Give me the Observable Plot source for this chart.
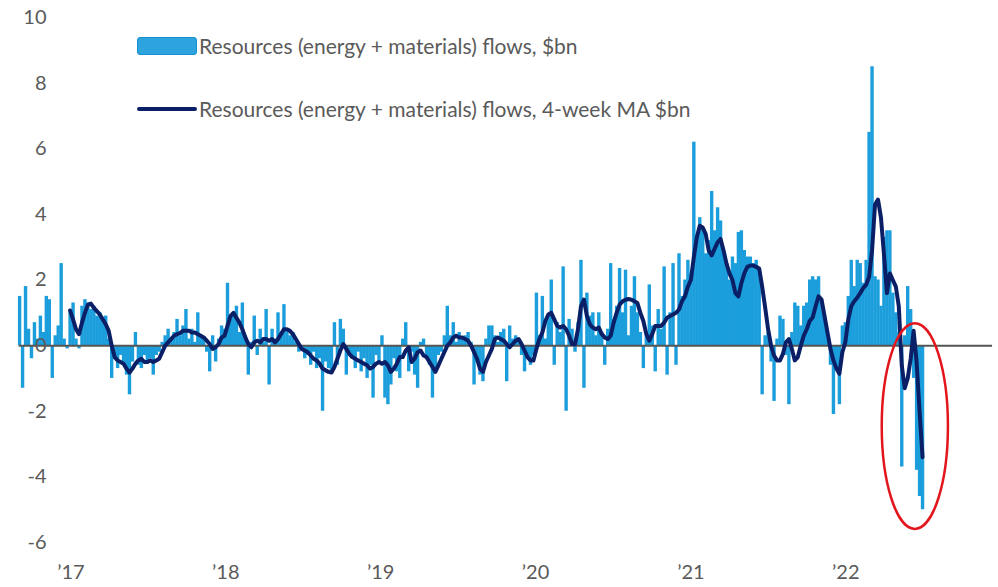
<!DOCTYPE html>
<html><head><meta charset="utf-8">
<script src="https://cdn.jsdelivr.net/npm/d3@7"></script>
<script src="https://cdn.jsdelivr.net/npm/@observablehq/plot@0.6"></script>
<style>
body{margin:0;background:#fff;}
#wrap{position:relative;width:998px;height:587px;font-family:Lato,"Open Sans",sans-serif;color:#5a5a5a;}
.leg{position:absolute;left:137px;display:flex;align-items:center;font-size:21px;line-height:24px;white-space:nowrap;}
.sw1{width:60px;height:18px;background:#2ea4de;border:1.5px solid #1590d0;border-radius:3px;box-sizing:border-box;margin-right:2px}
.sw2{width:60px;height:4px;background:#0b1f66;border-radius:2px;margin-right:2px}
</style></head>
<body><div id="wrap"><div id="chart"></div>
<div class="leg" style="top:34px"><div class="sw1"></div><span>Resources (energy + materials) flows, $bn</span></div>
<div class="leg" style="top:97px"><div class="sw2"></div><span>Resources (energy + materials) flows, 4-week MA $bn</span></div>
</div>
<script>
// Weekly flows, $bn (first week 2016-09-02)
const firstWeek = "2016-09-02";
const flows2016 = [1.5,-1.3,1.8,0.5,-0.4,0.7,0.2,0.9,0.4,1.5,1.4,-1.0,0.3,0.6,2.5,0.2,-0.1];
const flows2017 = [1.0,1.3,0.2,-0.1,1.2,1.4,1.3,1.1,1.2,0.9,1.0,0.8,0.9,0.2,-1.0,-0.4,-0.7,-0.3,-0.6,-0.9,-1.5,-0.5,0.4,-0.6,-0.7,-0.3,-0.5,-0.4,-0.9,-0.3,-0.2,0.1,0.3,0.5,0.2,0.4,0.8,0.3,0.6,1.1,0.2,0.5,0.1,1.0,0.3,0.2,-0.2,-0.8,0.3,-0.5,0.2,0.6];
const flows2018 = [0.5,1.9,0.8,1.0,1.2,0.4,1.3,0.3,-0.9,0.1,0.9,-0.3,0.5,0.1,1.1,-1.2,0.5,0.2,1.0,0.3,1.25,0.5,0.3,0.4,0.1,-0.2,0.0,-0.4,-0.3,-0.6,-0.2,-0.7,-0.4,-2.0,-0.5,-0.7,-0.8,0.7,-0.6,0.8,0.5,-0.9,-0.3,-0.4,-0.7,-0.2,-0.8,-0.4,-1.0,-0.6,-1.6,-0.3];
const flows2019 = [-0.5,0.3,-1.6,-1.8,-1.2,-0.4,-0.8,-1.0,0.2,0.7,-0.8,-0.2,-0.9,-1.3,0.1,0.2,-0.4,-0.6,-1.6,-0.7,-0.3,-0.2,0.3,1.2,0.3,0.7,0.1,0.4,0.2,0.3,0.4,0.1,-1.2,-0.5,-0.9,-1.1,0.2,0.6,0.6,0.3,0.1,0.4,0.5,-1.1,0.6,0.2,0.3,0.2,-0.3,-0.8,-0.4,-0.6];
const flows2020 = [-0.3,1.6,0.3,1.5,0.2,0.9,2.0,-0.6,0.7,0.4,2.4,-2.0,0.8,0.5,-0.2,0.7,2.6,-1.3,1.6,0.9,1.0,0.3,1.0,0.4,-0.6,0.5,2.5,0.8,1.2,2.35,1.0,2.3,0.3,1.2,2.1,1.0,0.4,-0.7,0.3,1.85,0.6,-0.8,1.1,0.5,2.4,-0.9,1.0,2.5,-0.6,2.8,1.5,2.0,2.6];
const flows2021 = [2.2,6.2,3.3,3.9,3.6,2.8,3.2,4.7,3.5,4.2,3.8,2.9,2.4,2.0,2.7,2.5,3.45,3.5,2.9,2.7,2.7,2.5,2.6,2.3,-1.5,0.3,0.4,-0.5,-1.7,0.2,0.9,0.8,-0.3,-1.8,0.4,1.3,1.2,0.6,1.2,1.3,2.0,2.1,2.0,2.1,1.4,0.9,0.3,-0.6,-2.1,-0.7,-1.8,0.6];
const flows2022 = [0.7,1.5,2.6,1.8,2.6,2.5,1.9,2.6,6.5,8.5,2.1,2.0,1.2,3.3,3.5,3.5,1.6,1.0,0.4,-3.7,0.3,1.8,1.1,-1.0,-3.8,-4.6,-5.0];

// 4-week moving average, $bn (starts with the first week of 2017)
const ma2017 = [1.07,0.8,0.5,0.35,0.7,1.0,1.25,1.28,1.15,1.05,0.95,0.8,0.65,0.45,0.0,-0.35,-0.45,-0.5,-0.55,-0.7,-0.82,-0.7,-0.55,-0.45,-0.4,-0.5,-0.5,-0.45,-0.5,-0.45,-0.4,-0.2,0.0,0.1,0.2,0.3,0.35,0.38,0.45,0.45,0.45,0.4,0.4,0.35,0.3,0.25,0.15,0.05,-0.1,-0.05,0.05,0.25];
const ma2018 = [0.3,0.6,0.9,1.0,0.85,0.7,0.5,0.25,0.05,-0.05,0.1,0.15,0.1,0.2,0.2,0.15,0.2,0.1,0.2,0.35,0.5,0.5,0.45,0.35,0.2,0.05,-0.1,-0.15,-0.2,-0.3,-0.4,-0.45,-0.55,-0.7,-0.75,-0.8,-0.82,-0.65,-0.4,-0.15,0.05,-0.1,-0.25,-0.35,-0.4,-0.45,-0.5,-0.55,-0.6,-0.7,-0.65,-0.55];
const ma2019 = [-0.5,-0.55,-0.5,-0.6,-0.8,-0.7,-0.55,-0.35,-0.35,-0.15,-0.05,-0.5,-0.4,-0.2,-0.15,-0.3,-0.35,-0.5,-0.65,-0.8,-0.6,-0.4,-0.2,0.0,0.1,0.25,0.3,0.25,0.25,0.2,0.15,0.0,-0.2,-0.4,-0.7,-0.8,-0.5,-0.3,-0.1,0.2,0.25,0.2,0.15,0.05,-0.05,0.05,0.15,0.2,0.05,-0.15,-0.35,-0.45];
const ma2020 = [-0.45,-0.1,0.2,0.4,0.75,0.95,1.0,0.8,0.6,0.55,0.6,0.5,0.3,0.05,0.05,0.5,1.2,1.4,0.9,0.65,0.55,0.5,0.55,0.35,0.25,0.2,0.3,0.7,1.0,1.25,1.35,1.4,1.42,1.4,1.35,1.3,1.0,0.75,0.35,0.15,0.35,0.6,0.6,0.6,0.7,0.85,0.9,0.95,1.0,1.1,1.35,1.5,1.8];
const ma2021 = [2.0,2.7,3.3,3.65,3.6,3.4,2.9,2.75,2.95,3.15,3.25,2.9,2.5,2.2,2.0,1.6,1.5,1.9,2.2,2.4,2.44,2.44,2.4,2.35,1.8,1.17,0.5,0.0,-0.3,-0.45,-0.45,-0.25,0.1,0.2,-0.1,-0.45,-0.35,0.0,0.3,0.5,0.75,0.86,1.2,1.5,1.4,0.9,0.4,-0.1,-0.45,-0.7,-0.86,-0.2];
const ma2022 = [0.1,0.8,1.2,1.35,1.46,1.6,1.75,1.85,2.1,2.9,4.3,4.45,3.9,2.8,1.6,2.2,2.0,1.8,1.2,-0.6,-1.3,-1.0,-0.4,0.45,-0.5,-2.0,-3.4];

const yTicks = [-6,-4,-2,0,2,4,6,8,10];
const yearTicks = ["2017-01-01","2018-01-01","2019-01-01","2020-01-01","2021-01-01","2022-01-01"].map(s => new Date(s));
const xDomain = [new Date("2016-07-19"), new Date("2022-12-27")];
const zeroLine = [{y: 0, x1: new Date("2016-09-01"), x2: new Date("2022-12-13")}];
// highlight ellipse, in data units
const ringDates = [new Date("2022-03-28"), new Date("2022-08-31")];
const ringValues = [0.67, -5.6];

const start = new Date(firstWeek);
const flowValues = [].concat(flows2016, flows2017, flows2018, flows2019, flows2020, flows2021, flows2022);
const maValues = [].concat(ma2017, ma2018, ma2019, ma2020, ma2021, ma2022);
const flowsData = flowValues.map((v, i) => ({date: d3.utcDay.offset(start, 7 * i), value: v}));
const maOffset = flows2016.length;
const maData = maValues.map((v, i) => ({date: d3.utcDay.offset(start, 7 * (i + maOffset)), value: v}));

const chart = Plot.plot({
  width: 998, height: 587,
  marginLeft: 0, marginRight: 0, marginTop: 17, marginBottom: 45,
  style: {fontFamily: "Lato, 'Open Sans', sans-serif", fontSize: "20px", color: "#5a5a5a", background: "#fff", overflow: "visible"},
  x: {type: "utc", domain: xDomain},
  y: {domain: [-6, 10]},
  marks: [
    Plot.ruleX(flowsData, {x: "date", y1: 0, y2: "value", stroke: "#1b9edb", strokeWidth: 3.4}),
    Plot.ruleY(zeroLine, {y: "y", x1: "x1", x2: "x2", stroke: "#555", strokeWidth: 2}),
    Plot.line(maData, {x: "date", y: "value", stroke: "#0b1f66", strokeWidth: 4, strokeLinejoin: "round", strokeLinecap: "round"}),
    Plot.axisY({ticks: yTicks, tickSize: 0, tickPadding: 0, dx: 46, tickFormat: d => String(d), label: null}),
    Plot.axisX({ticks: yearTicks, tickSize: 0, tickPadding: 22, tickFormat: d => "\u2019" + String(d.getUTCFullYear()).slice(2), label: null})
  ]
});
document.getElementById("chart").appendChild(chart);

const xs = chart.scale("x"), ys = chart.scale("y");
const ex1 = xs.apply(ringDates[0]), ex2 = xs.apply(ringDates[1]);
const ey1 = ys.apply(ringValues[0]), ey2 = ys.apply(ringValues[1]);
d3.select(chart).append("ellipse")
  .attr("cx", (ex1 + ex2) / 2).attr("cy", (ey1 + ey2) / 2)
  .attr("rx", Math.abs(ex2 - ex1) / 2).attr("ry", Math.abs(ey2 - ey1) / 2)
  .attr("fill", "none").attr("stroke", "#e3161d").attr("stroke-width", 2.5);
</script>
</body></html>
